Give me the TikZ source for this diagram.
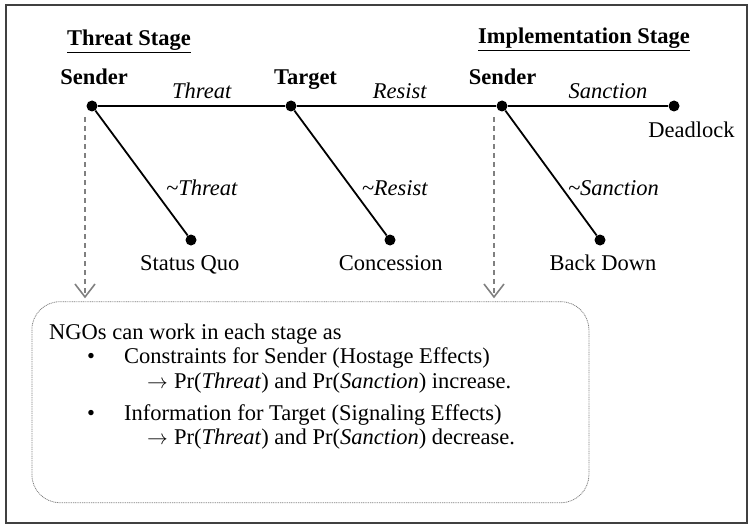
\documentclass[tikz,border=0pt]{standalone}
\usepackage{fontspec}
\setmainfont{Liberation Serif}
\usetikzlibrary{arrows.meta}

\begin{document}
\begin{tikzpicture}[x=1pt, y=-1pt,
  every node/.style={font=\fontsize{22.5}{27}\selectfont, inner sep=0pt},
  dot/.style={circle, fill, inner sep=0pt, minimum size=11pt},
  branch/.style={line width=1.8pt},
  hint/.style={black!50, line width=1.5pt, dash pattern=on 5pt off 4pt, shorten >=3pt,
    -{Straight Barb[length=13pt, width=20pt, line width=1.6pt]}}]
\useasboundingbox (0,0) rectangle (749,524);
\draw[black!75, line width=2pt] (5.5,5) rectangle (746.5,522.5);

% stage titles
\node[anchor=base] (TS) at (129,46) {\underline{\textbf{Threat Stage}}};
\node[anchor=base] (IS) at (584,44) {\underline{\textbf{Implementation Stage}}};

% decision nodes and outcomes
\node[dot] (S1) at (92,106)  {};
\node[dot] (T)  at (291,106) {};
\node[dot] (S2) at (502,106) {};
\node[dot] (DL) at (674,106) {};
\node[dot] (SQ) at (191,240) {};
\node[dot] (C)  at (390,240) {};
\node[dot] (BD) at (600,240) {};

\node[anchor=base] (S1l) at (94,85)    {\textbf{Sender}};
\node[anchor=base] (Tl)  at (305.5,85) {\textbf{Target}};
\node[anchor=base] (S2l) at (502.7,85) {\textbf{Sender}};

\node[anchor=base] (DLl) at (691.5,138) {Deadlock};
\node[anchor=base] (SQl) at (189.7,270) {Status Quo};
\node[anchor=base] (Cl)  at (390.8,270) {Concession};
\node[anchor=base] (BDl) at (603,270)   {Back Down};

\draw[branch] (S1) -- (T);
\draw[branch] (T) -- (S2);
\draw[branch] (S2) -- (DL);
\draw[branch] (S1) -- (SQ);
\draw[branch] (T) -- (C);
\draw[branch] (S2) -- (BD);

% moves
\node[anchor=base] (m1) at (202,98.5) {\textit{Threat}};
\node[anchor=base] (m2) at (400,98.5) {\textit{Resist}};
\node[anchor=base] (m3) at (608,98.5) {\textit{Sanction}};
\node[anchor=base] (n1) at (202,195)   {\textit{\textasciitilde Threat}};
\node[anchor=base] (n2) at (395,195)   {\textit{\textasciitilde Resist}};
\node[anchor=base] (n3) at (613.5,195) {\textit{\textasciitilde Sanction}};

% NGO box
\node[draw=gray, line width=0.8pt, dash pattern=on 1pt off 0.8pt, rounded corners=28pt,
  minimum width=557pt, minimum height=201pt] (ngo) at (310.4,402.2) {};
\coordinate (h1) at (85,117);
\coordinate (h2) at (494,117);
\draw[hint] (h1) -- (h1 |- ngo.north);
\draw[hint] (h2) -- (h2 |- ngo.north);

\node[anchor=base west] (L0) at (49,339) {NGOs can work in each stage as};
\node[anchor=base west] (L1) at (87,363)
  {\makebox[37pt][l]{\textbullet}Constraints for Sender (Hostage Effects)};
\node[anchor=base west] (L2) at (147,388)
  {\makebox[27pt][l]{$\rightarrow$}Pr(\textit{Threat}) and Pr(\textit{Sanction}) increase.};
\node[anchor=base west] (L3) at (87,420)
  {\makebox[37pt][l]{\textbullet}Information for Target (Signaling Effects)};
\node[anchor=base west] (L4) at (147,444)
  {\makebox[27pt][l]{$\rightarrow$}Pr(\textit{Threat}) and Pr(\textit{Sanction}) decrease.};
\end{tikzpicture}
\end{document}
